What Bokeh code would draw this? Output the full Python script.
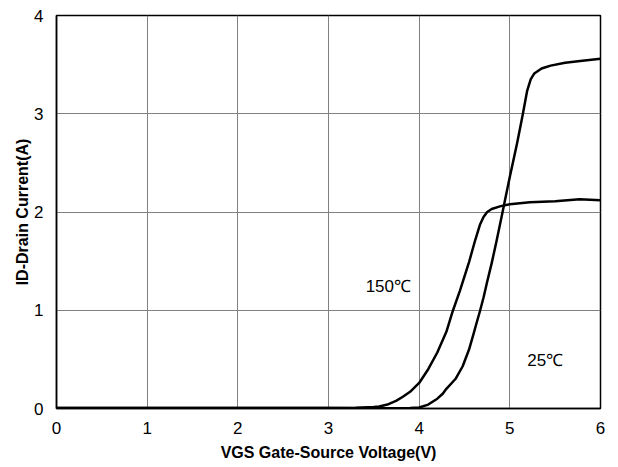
from bokeh.plotting import figure
from bokeh.models import Range1d, FixedTicker
from bokeh.core.properties import value
from bokeh.embed import file_html
from bokeh.resources import INLINE

# 25°C curve
x25 = [0, 0.5, 1, 1.5, 2, 2.5, 3, 3.5, 3.8, 3.9, 4.0, 4.1, 4.2, 4.26, 4.3, 4.4,
       4.48, 4.55, 4.6, 4.63, 4.67, 4.71, 4.75, 4.8, 4.85, 4.92, 4.96, 5.0, 5.04,
       5.08, 5.14, 5.19, 5.23, 5.27, 5.35, 5.45, 5.61, 5.8, 6.0]
y25 = [0.005, 0.004, 0.005, 0.004, 0.005, 0.004, 0.004, 0.003, 0.003, 0.004, 0.01,
       0.04, 0.1, 0.15, 0.2, 0.3, 0.43, 0.6, 0.76, 0.86, 0.99, 1.13, 1.29, 1.48,
       1.69, 2.0, 2.18, 2.36, 2.53, 2.70, 2.98, 3.23, 3.35, 3.41, 3.46, 3.49, 3.52,
       3.54, 3.56]
# 150°C curve
x150 = [0, 0.5, 1, 1.5, 2, 2.5, 3, 3.3, 3.5, 3.56, 3.65, 3.75, 3.82, 3.9, 4.0,
        4.1, 4.2, 4.3, 4.37, 4.45, 4.55, 4.62, 4.67, 4.71, 4.75, 4.8, 4.9, 5.0,
        5.22, 5.5, 5.77, 6.0]
y150 = [0.005, 0.004, 0.005, 0.004, 0.005, 0.004, 0.005, 0.008, 0.015, 0.02, 0.04,
        0.08, 0.12, 0.17, 0.26, 0.4, 0.57, 0.78, 0.99, 1.2, 1.49, 1.72, 1.87, 1.95,
        2.0, 2.03, 2.06, 2.08, 2.10, 2.11, 2.13, 2.12]

label_x = [3.66, 5.39]
label_y = [1.24, 0.49]
label_text = ["150℃", "25℃"]

x_ticks = [0, 1, 2, 3, 4, 5, 6]
y_ticks = [0, 1, 2, 3, 4]

p = figure(width=612, height=465, output_backend="svg", toolbar_location=None,
           x_range=Range1d(0, 6), y_range=Range1d(0, 4),
           min_border_left=56, min_border_right=12, min_border_top=15, min_border_bottom=57)
p.background_fill_color = "white"
p.border_fill_color = "white"
p.outline_line_color = "black"
p.outline_line_width = 1.5

p.xaxis.ticker = FixedTicker(ticks=x_ticks)
p.yaxis.ticker = FixedTicker(ticks=y_ticks)
for ax in (p.xaxis[0], p.yaxis[0]):
    ax.major_tick_out = 0
    ax.major_tick_in = 0
    ax.minor_tick_out = 0
    ax.minor_tick_in = 0
    ax.axis_line_color = "black"
    ax.axis_line_width = 1.5
    ax.major_label_text_font = "Liberation Sans"
    ax.major_label_text_font_size = "17px"
    ax.major_label_text_color = "black"
    ax.axis_label_text_font = "Liberation Sans"
    ax.axis_label_text_font_size = "16px"
    ax.axis_label_text_font_style = "bold"
    ax.axis_label_text_color = "black"
p.xaxis.major_label_standoff = 13
p.yaxis.major_label_standoff = 13
p.xaxis.axis_label = "VGS Gate-Source Voltage(V)"
p.yaxis.axis_label = "ID-Drain Current(A)"
p.xaxis.axis_label_standoff = 7
p.yaxis.axis_label_standoff = 0

p.xgrid.grid_line_color = "#808080"
p.ygrid.grid_line_color = "#808080"
p.xgrid.grid_line_width = 1
p.ygrid.grid_line_width = 1

p.line(x25, y25, line_color="black", line_width=2.5, line_join="round")
p.line(x150, y150, line_color="black", line_width=2.5, line_join="round")

p.text(x=label_x, y=label_y, text=label_text, text_font=value("Liberation Sans"),
       text_font_size="17px", text_color="black", text_align="center",
       text_baseline="middle")

open("out.html", "w").write(file_html(p, INLINE))
